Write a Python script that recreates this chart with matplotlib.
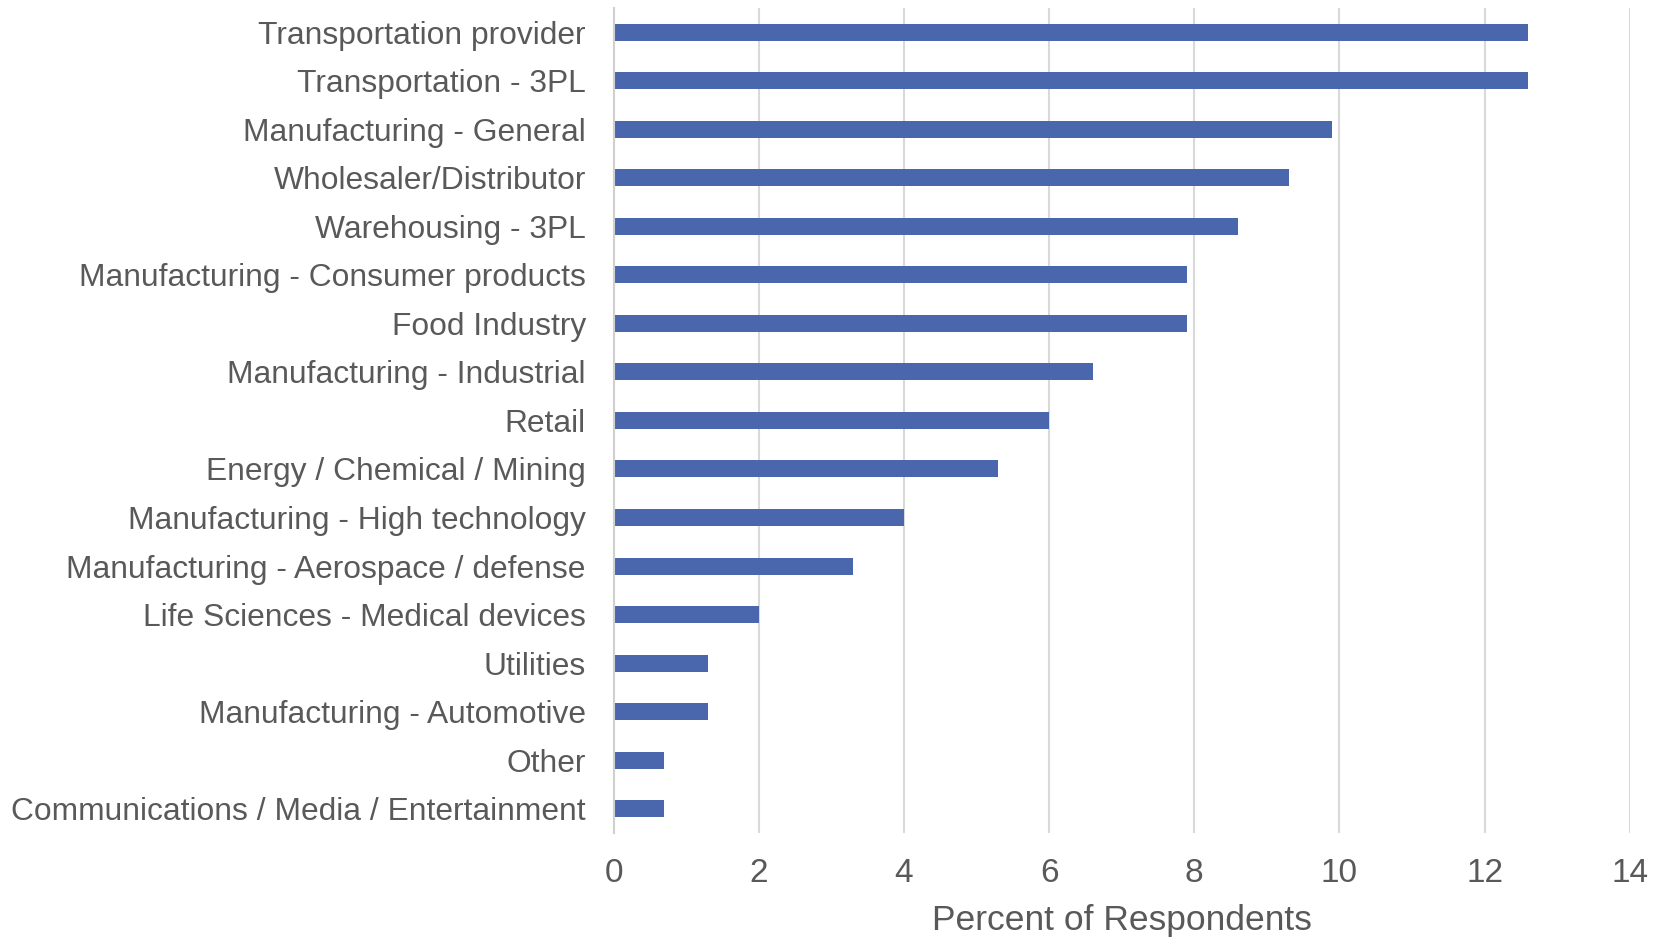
import matplotlib
matplotlib.use("Agg")
import matplotlib.pyplot as plt

categories = [
    "Transportation provider",
    "Transportation - 3PL",
    "Manufacturing - General",
    "Wholesaler/Distributor",
    "Warehousing - 3PL",
    "Manufacturing - Consumer products",
    "Food Industry",
    "Manufacturing - Industrial",
    "Retail",
    "Energy / Chemical / Mining",
    "Manufacturing - High technology",
    "Manufacturing - Aerospace / defense",
    "Life Sciences - Medical devices",
    "Utilities",
    "Manufacturing - Automotive",
    "Other",
    "Communications / Media / Entertainment",
]
percent = [12.6, 12.6, 9.9, 9.3, 8.6, 7.9, 7.9, 6.6, 6.0, 5.3, 4.0, 3.3, 2.0, 1.3, 1.3, 0.7, 0.7]
x_ticks = [0, 2, 4, 6, 8, 10, 12, 14]

text_color = "#595959"
plt.rcParams["font.family"] = ["Liberation Sans", "DejaVu Sans"]

fig = plt.figure(figsize=(16.63, 9.38), dpi=100)
ax = fig.add_axes([0.369, 0.112, 0.611, 0.8795])

y = list(range(len(categories)))
ax.barh(y, percent, height=0.35, color="#4a67ad", zorder=3)
ax.set_ylim(len(categories) - 0.5, -0.5)
ax.set_xlim(0, 14)
ax.set_xticks(x_ticks)
ax.set_xticklabels([str(t) for t in x_ticks])
ax.set_yticks(y)
ax.set_yticklabels(categories)

ax.grid(axis="x", color="#d9d9d9", linewidth=1.5, zorder=0)
for side in ("top", "right", "bottom"):
    ax.spines[side].set_visible(False)
ax.spines["left"].set_color("#d0d0d0")
ax.spines["left"].set_linewidth(1.5)
ax.spines["left"].set_zorder(4)

ax.tick_params(axis="y", length=0, pad=20, labelsize=22.9, labelcolor=text_color)
ax.tick_params(axis="x", length=0, pad=18, labelsize=24, labelcolor=text_color)
ax.set_xlabel("Percent of Respondents", fontsize=25.5, color=text_color, labelpad=11)

fig.savefig("out.png", dpi=100, facecolor="white")
